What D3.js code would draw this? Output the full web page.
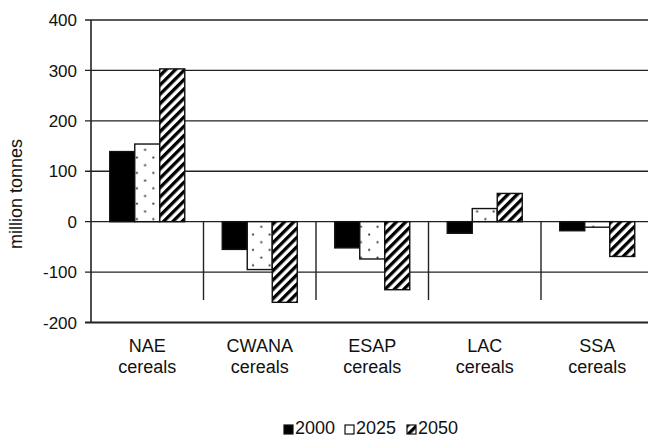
<!DOCTYPE html>
<html><head><meta charset="utf-8">
<script src="https://cdn.jsdelivr.net/npm/d3@7"></script>
<style>body{margin:0;background:#fff}svg{display:block;font-family:"Liberation Sans",Arial,sans-serif}</style>
</head><body>
<svg id="c" width="648" height="440"></svg>
<script>
const regions = ["NAE", "CWANA", "ESAP", "LAC", "SSA"];
const categoryLabel2 = "cereals";
const series = ["2000", "2025", "2050"];
const values2000 = [139, -55, -52, -23, -18];
const values2025 = [154, -95, -74, 26, -11];
const values2050 = [303, -160, -135, 56, -69];
const yTicks = [-200, -100, 0, 100, 200, 300, 400];
const yTitle = "million tonnes";

const seriesValues = {"2000": values2000, "2025": values2025, "2050": values2050};
const svg = d3.select("#c");

const defs = svg.append("defs");
const dots = defs.append("pattern").attr("id", "dots").attr("patternUnits", "userSpaceOnUse")
  .attr("width", 16.6).attr("height", 15.4);
dots.append("rect").attr("width", 16.6).attr("height", 15.4).attr("fill", "#fff");
dots.append("circle").attr("cx", 4).attr("cy", 3.5).attr("r", 1.1).attr("fill", "#333");
dots.append("circle").attr("cx", 12.3).attr("cy", 11.2).attr("r", 1.1).attr("fill", "#333");
const hatch = defs.append("pattern").attr("id", "hatch").attr("patternUnits", "userSpaceOnUse")
  .attr("width", 6.6).attr("height", 6.6).attr("patternTransform", "rotate(45)");
hatch.append("rect").attr("width", 6.6).attr("height", 6.6).attr("fill", "#fff");
hatch.append("rect").attr("x", 0).attr("y", 0).attr("width", 3.3).attr("height", 6.6).attr("fill", "#000");

const fills = {"2000": "#000", "2025": "url(#dots)", "2050": "url(#hatch)"};

const x = d3.scaleBand().domain(regions).range([91, 653.5]).padding(0);
const xs = d3.scaleBand().domain(series).range([0, x.bandwidth()]).paddingInner(0).paddingOuter(0.75);
const y = d3.scaleLinear().domain([-200, 400]).range([322.5, 20]);

// gridlines
svg.append("g").selectAll("line").data(yTicks).join("line")
  .attr("x1", 85).attr("x2", 660)
  .attr("y1", d => y(d)).attr("y2", d => y(d))
  .attr("stroke", "#222").attr("stroke-width", d => d === -200 ? 2 : 1.4);

// y axis line
svg.append("line").attr("x1", 91).attr("x2", 91).attr("y1", y(400)).attr("y2", y(-200))
  .attr("stroke", "#222").attr("stroke-width", 1.6);

// tick labels
svg.append("g").selectAll("text").data(yTicks).join("text")
  .attr("x", 77).attr("y", d => y(d)).attr("dy", "0.36em")
  .attr("text-anchor", "end").attr("font-size", 17).attr("fill", "#111")
  .text(d => d);

// category separators
svg.append("g").selectAll("line").data(regions.slice(1)).join("line")
  .attr("x1", d => x(d)).attr("x2", d => x(d))
  .attr("y1", y(0)).attr("y2", 300)
  .attr("stroke", "#222").attr("stroke-width", 1.4);

// bars
const g = svg.append("g");
regions.forEach((r, i) => {
  series.forEach(s => {
    const v = seriesValues[s][i];
    g.append("rect")
      .attr("x", x(r) + xs(s)).attr("width", xs.bandwidth())
      .attr("y", y(Math.max(0, v))).attr("height", Math.abs(y(v) - y(0)))
      .attr("fill", fills[s]).attr("stroke", "#111").attr("stroke-width", 1.4);
  });
});

// category labels
const lab = svg.append("g").selectAll("text").data(regions).join("text")
  .attr("text-anchor", "middle").attr("font-size", 18).attr("fill", "#111");
lab.append("tspan").attr("x", d => x(d) + x.bandwidth() / 2).attr("y", 352).text(d => d);
lab.append("tspan").attr("x", d => x(d) + x.bandwidth() / 2).attr("y", 373).text(categoryLabel2);

// y title
svg.append("text").attr("transform", "translate(22,194) rotate(-90)")
  .attr("text-anchor", "middle").attr("font-size", 18).attr("fill", "#111").text(yTitle);

// legend
const legX = [284, 345, 407];
const leg = svg.append("g");
series.forEach((s, i) => {
  leg.append("rect").attr("x", legX[i]).attr("y", 425).attr("width", 9).attr("height", 9)
    .attr("fill", fills[s]).attr("stroke", "#111").attr("stroke-width", 1.2);
  leg.append("text").attr("x", legX[i] + 11).attr("y", 434).attr("font-size", 18)
    .attr("fill", "#111").text(s);
});
</script>
</body></html>
